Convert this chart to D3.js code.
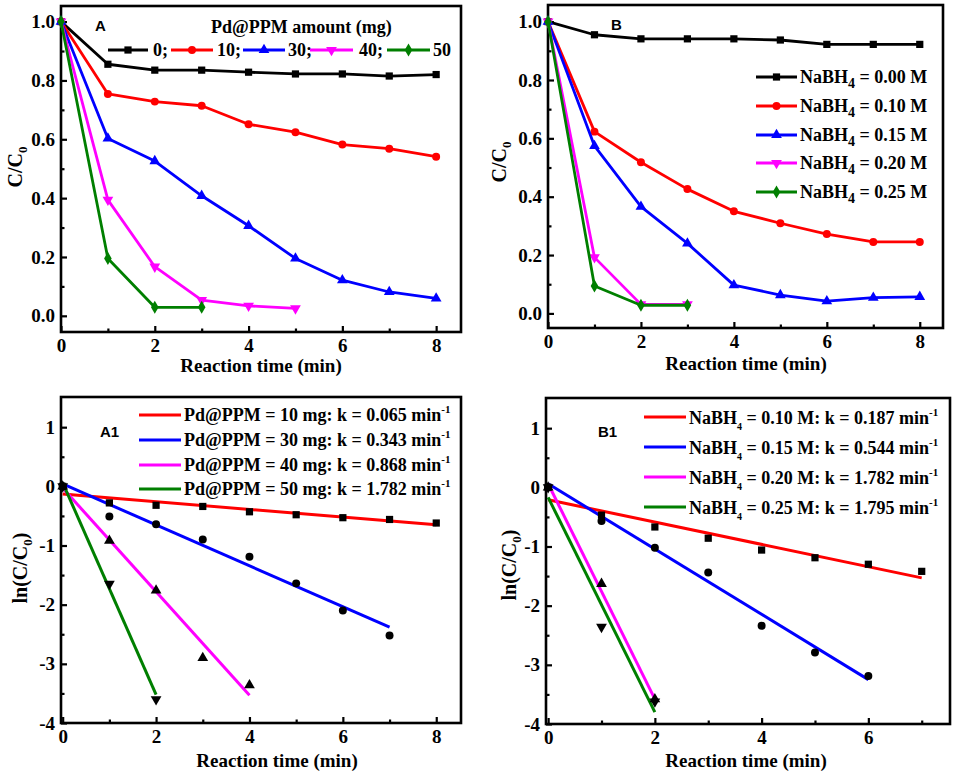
<!DOCTYPE html>
<html><head><meta charset="utf-8">
<script src="https://cdn.jsdelivr.net/npm/d3@7"></script>
<style>
body{margin:0;background:#fff}
svg{display:block}
text{font-family:"Liberation Serif","Times New Roman",serif;font-weight:bold;fill:#000}
.plabel{font-family:"Liberation Sans",Arial,sans-serif}
</style>
</head><body><svg id="c" width="957" height="776"></svg>
<script>
// ---------- DATA ----------
const timeMin = [0,1,2,3,4,5,6,7,8];
// Panel A: C/C0 vs time, Pd@PPM amount (mg)
const amountLabelsA = ["0;","10;","30;","40;","50"];
const seriesA_0mg  = [1.0,0.855,0.835,0.835,0.828,0.822,0.822,0.815,0.820];
const seriesA_10mg = [1.0,0.754,0.728,0.714,0.651,0.624,0.582,0.568,0.541];
const seriesA_30mg = [1.0,0.603,0.526,0.408,0.306,0.195,0.121,0.081,0.059];
const seriesA_40mg = [1.0,0.394,0.167,0.053,0.034,0.025];
const seriesA_50mg = [1.0,0.195,0.029,0.029];
// Panel B: C/C0 vs time, NaBH4 concentration
const nabh4LabelsB = ["0.00","0.10","0.15","0.20","0.25"];
const seriesB_000 = [1.0,0.955,0.941,0.941,0.941,0.937,0.922,0.922,0.922];
const seriesB_010 = [1.0,0.623,0.518,0.426,0.350,0.309,0.272,0.245,0.245];
const seriesB_015 = [1.0,0.574,0.366,0.240,0.097,0.063,0.042,0.054,0.057];
const seriesB_020 = [1.0,0.192,0.031,0.031];
const seriesB_025 = [1.0,0.094,0.028,0.028];
// Panel A1: ln(C/C0) points and fitted lines
const amountsA1 = ["10","30","40","50"];
const kA1 = ["0.065","0.343","0.868","1.782"];
const lnA1_10 = [0,-0.28,-0.32,-0.34,-0.43,-0.48,-0.53,-0.56,-0.62];
const lnA1_30 = [0,-0.51,-0.64,-0.90,-1.19,-1.64,-2.10,-2.52];
const lnA1_40 = [0,-0.92,-1.76,-2.90,-3.36];
const lnA1_50 = [0,-1.65,-3.60];
const fitA1_10 = [[0,-0.13],[8,-0.65]];
const fitA1_30 = [[0,0.04],[7,-2.38]];
const fitA1_40 = [[0,-0.03],[4,-3.53]];
const fitA1_50 = [[0,0.06],[2,-3.52]];
// Panel B1
const nabh4B1 = ["0.10","0.15","0.20","0.25"];
const kB1 = ["0.187","0.544","1.782","1.795"];
const lnB1_010 = [0,-0.47,-0.67,-0.86,-1.06,-1.19,-1.30,-1.42];
const lnB1_015 = [0,-0.57,-1.02,-1.44,-2.34,-2.79,-3.19];
const lnB1_020 = [0,-1.63,-3.58];
const lnB1_025 = [0,-2.36,-3.62];
const fitB1_010 = [[0,-0.21],[7,-1.53]];
const fitB1_015 = [[0,0.06],[6,-3.25]];
const fitB1_020 = [[0,0.06],[2,-3.58]];
const fitB1_025 = [[0,-0.17],[2,-3.80]];
// tick values
const xMajorA = [0,2,4,6,8], xMinorA = [1,3,5,7];
const yMajorC = [0,0.2,0.4,0.6,0.8,1.0], yMinorC = [0.1,0.3,0.5,0.7,0.9];
const yMajorLn = [-4,-3,-2,-1,0,1], yMinorLn = [-3.5,-2.5,-1.5,-0.5,0.5];
const xMajorB1 = [0,2,4,6], xMinorB1 = [1,3,5,7];

// ---------- STYLE ----------
const COL = {black:"#000000", red:"#ff0000", blue:"#0000ff", magenta:"#ff00ff", green:"#007f00"};
const svg = d3.select("#c");

const symSq = d3.symbol().type(d3.symbolSquare).size(52);
const symCi = d3.symbol().type(d3.symbolCircle).size(50);
const symTri = d3.symbol().type(d3.symbolTriangle).size(50);
const symDi = d3.symbol().type(d3.symbolDiamond).size(50);
const markers = {sq:symSq(), ci:symCi(), up:symTri(), dn:symTri(), di:symDi()};
function markerTransform(type, px, py){
  return `translate(${px},${py})` + (type==="dn" ? " rotate(180)" : "");
}

function makePanel(cfg){
  const g = svg.append("g");
  const x = d3.scaleLinear().domain(cfg.xd).range([cfg.l, cfg.r]);
  const y = d3.scaleLinear().domain(cfg.yd).range([cfg.b, cfg.t]);
  const fmtX = d3.format("d");
  const ax = g.append("g").attr("transform",`translate(0,${cfg.b})`)
    .call(d3.axisBottom(x).tickValues(cfg.xMajor).tickSizeInner(-6).tickSizeOuter(0).tickPadding(7).tickFormat(fmtX));
  ax.select(".domain").remove();
  ax.selectAll("text").attr("font-size",19).attr("font-family",null);
  ax.selectAll("line").attr("stroke-width",2.2);
  const axm = g.append("g").attr("transform",`translate(0,${cfg.b})`)
    .call(d3.axisBottom(x).tickValues(cfg.xMinor.filter(v=>v<cfg.xd[1])).tickSizeInner(-3.5).tickSizeOuter(0).tickFormat(""));
  axm.select(".domain").remove();
  axm.selectAll("line").attr("stroke-width",2.2);
  const ay = g.append("g").attr("transform",`translate(${cfg.l},0)`)
    .call(d3.axisLeft(y).tickValues(cfg.yMajor).tickSizeInner(-6).tickSizeOuter(0).tickPadding(6).tickFormat(cfg.yFmt));
  ay.select(".domain").remove();
  ay.selectAll("text").attr("font-size",19).attr("font-family",null);
  ay.selectAll("line").attr("stroke-width",2.2);
  const aym = g.append("g").attr("transform",`translate(${cfg.l},0)`)
    .call(d3.axisLeft(y).tickValues(cfg.yMinor).tickSizeInner(-3.5).tickSizeOuter(0).tickFormat(""));
  aym.select(".domain").remove();
  aym.selectAll("line").attr("stroke-width",2.2);
  g.append("rect").attr("x",cfg.l).attr("y",cfg.t).attr("width",cfg.r-cfg.l).attr("height",cfg.b-cfg.t)
    .attr("fill","none").attr("stroke","#000").attr("stroke-width",2.6);
  return {g,x,y};
}

function drawSeries(p, vals, color, mk, withLine){
  const pts = vals.map((v,i)=>[timeMin[i], v]);
  if(withLine){
    p.g.append("path").datum(pts).attr("fill","none").attr("stroke",color).attr("stroke-width",2.8)
      .attr("stroke-linejoin","round")
      .attr("d", d3.line().x(d=>p.x(d[0])).y(d=>p.y(d[1])));
  }
  p.g.selectAll(null).data(pts).enter().append("path")
    .attr("d", markers[mk]).attr("fill",color)
    .attr("transform", d=>markerTransform(mk, p.x(d[0]), p.y(d[1])));
}
function drawFit(p, seg, color){
  p.g.append("path").datum(seg).attr("fill","none").attr("stroke",color).attr("stroke-width",3)
    .attr("d", d3.line().x(d=>p.x(d[0])).y(d=>p.y(d[1])));
}
function legendLine(p, x1, x2, yy, color, mk){
  p.g.append("line").attr("x1",x1).attr("x2",x2).attr("y1",yy).attr("y2",yy)
    .attr("stroke",color).attr("stroke-width",2.8);
  if(mk) p.g.append("path").attr("d",markers[mk]).attr("fill",color)
    .attr("transform", markerTransform(mk,(x1+x2)/2,yy));
}
function subText(p, xx, yy, parts, size, anchor, rotate){
  const t = p.g.append("text").attr("font-size",size).attr("text-anchor",anchor||"start");
  if(rotate) t.attr("transform",`translate(${xx},${yy}) rotate(-90)`);
  else t.attr("x",xx).attr("y",yy);
  parts.forEach(pt=>{
    const s = t.append("tspan").text(pt.t);
    if(pt.fs) s.attr("font-size",pt.fs);
    if(pt.dy) s.attr("dy",pt.dy);
  });
  return t;
}

const fmtC = d3.format(".1f");
const fmtLn = d => String(d);

// ---------- PANEL A ----------
const pA = makePanel({l:61,t:6,r:461,b:332, xd:[0,8.53], yd:[-0.055,1.053],
  xMajor:xMajorA, xMinor:xMinorA, yMajor:yMajorC, yMinor:yMinorC, yFmt:fmtC});
drawSeries(pA, seriesA_0mg, COL.black, "sq", true);
drawSeries(pA, seriesA_10mg, COL.red, "ci", true);
drawSeries(pA, seriesA_30mg, COL.blue, "up", true);
drawSeries(pA, seriesA_40mg, COL.magenta, "dn", true);
drawSeries(pA, seriesA_50mg, COL.green, "di", true);
pA.g.append("text").attr("class","plabel").attr("x",95).attr("y",31).attr("font-size",15).text("A");
pA.g.append("text").attr("x",211).attr("y",33).attr("font-size",18).text("Pd@PPM amount (mg)");
const legA = [[108,148,153,COL.black,"sq"],[171,213,217,COL.red,"ci"],[243,285,288,COL.blue,"up"],[310,353,359,COL.magenta,"dn"],[387,430,433,COL.green,"di"]];
legA.forEach((d,i)=>{
  legendLine(pA, d[0], d[1], 50, d[3], d[4]);
  pA.g.append("text").attr("x",d[2]).attr("y",56).attr("font-size",18).text(amountLabelsA[i]);
});
pA.g.append("text").attr("x",261).attr("y",372).attr("font-size",19).attr("text-anchor","middle").text("Reaction time (min)");
subText(pA, 22, 167, [{t:"C/C"},{t:"0",fs:13,dy:5}], 20, "middle", true);

// ---------- PANEL B ----------
const pB = makePanel({l:548,t:5,r:943,b:328, xd:[0,8.5], yd:[-0.05,1.057],
  xMajor:xMajorA, xMinor:xMinorA, yMajor:yMajorC, yMinor:yMinorC, yFmt:fmtC});
drawSeries(pB, seriesB_000, COL.black, "sq", true);
drawSeries(pB, seriesB_010, COL.red, "ci", true);
drawSeries(pB, seriesB_015, COL.blue, "up", true);
drawSeries(pB, seriesB_020, COL.magenta, "dn", true);
drawSeries(pB, seriesB_025, COL.green, "di", true);
pB.g.append("text").attr("class","plabel").attr("x",611).attr("y",30).attr("font-size",15).text("B");
const legBcols = [[COL.black,"sq"],[COL.red,"ci"],[COL.blue,"up"],[COL.magenta,"dn"],[COL.green,"di"]];
const legBy = [77,106,135,163,192];
nabh4LabelsB.forEach((lab,i)=>{
  legendLine(pB, 756, 797, legBy[i], legBcols[i][0], legBcols[i][1]);
  subText(pB, 800, legBy[i]+6, [{t:"NaBH"},{t:"4",fs:14,dy:5},{t:" = "+lab+" M",dy:-5}], 18);
});
pB.g.append("text").attr("x",746).attr("y",370).attr("font-size",19).attr("text-anchor","middle").text("Reaction time (min)");
subText(pB, 506, 162, [{t:"C/C"},{t:"0",fs:13,dy:5}], 20, "middle", true);

// ---------- PANEL A1 ----------
const pA1 = makePanel({l:61,t:397,r:461,b:723, xd:[-0.036,8.53], yd:[-4,1.51],
  xMajor:xMajorA, xMinor:xMinorA, yMajor:yMajorLn, yMinor:yMinorLn, yFmt:fmtLn});
drawFit(pA1, fitA1_10, COL.red);
drawFit(pA1, fitA1_30, COL.blue);
drawFit(pA1, fitA1_40, COL.magenta);
drawFit(pA1, fitA1_50, COL.green);
drawSeries(pA1, lnA1_10, COL.black, "sq", false);
drawSeries(pA1, lnA1_30, COL.black, "ci", false);
drawSeries(pA1, lnA1_40, COL.black, "up", false);
drawSeries(pA1, lnA1_50, COL.black, "dn", false);
pA1.g.append("text").attr("class","plabel").attr("x",100).attr("y",437).attr("font-size",15).text("A1");
const legA1col = [COL.red,COL.blue,COL.magenta,COL.green];
const legA1y = [415,440,465,489];
amountsA1.forEach((a,i)=>{
  legendLine(pA1, 139, 181, legA1y[i], legA1col[i], null);
  subText(pA1, 184, legA1y[i]+6, [{t:"Pd@PPM = "+a+" mg: k = "+kA1[i]+" min"},{t:"-1",fs:11,dy:-8}], 18);
});
pA1.g.append("text").attr("x",277).attr("y",767).attr("font-size",19).attr("text-anchor","middle").text("Reaction time (min)");
subText(pA1, 27, 568, [{t:"ln(C/C"},{t:"0",fs:13,dy:5},{t:")",dy:-5}], 20, "middle", true);

// ---------- PANEL B1 ----------
const pB1 = makePanel({l:546,t:398,r:950,b:724, xd:[-0.04,7.53], yd:[-4,1.51],
  xMajor:xMajorB1, xMinor:xMinorB1, yMajor:yMajorLn, yMinor:yMinorLn, yFmt:fmtLn});
drawFit(pB1, fitB1_010, COL.red);
drawFit(pB1, fitB1_015, COL.blue);
drawFit(pB1, fitB1_020, COL.magenta);
drawFit(pB1, fitB1_025, COL.green);
drawSeries(pB1, lnB1_010, COL.black, "sq", false);
drawSeries(pB1, lnB1_015, COL.black, "ci", false);
drawSeries(pB1, lnB1_020, COL.black, "up", false);
drawSeries(pB1, lnB1_025, COL.black, "dn", false);
pB1.g.append("text").attr("class","plabel").attr("x",598).attr("y",437).attr("font-size",15).text("B1");
const legB1y = [417,447,477,507];
nabh4B1.forEach((c,i)=>{
  legendLine(pB1, 644, 686, legB1y[i], legA1col[i], null);
  subText(pB1, 689, legB1y[i]+7, [{t:"NaBH"},{t:"4",fs:10,dy:6},{t:" = "+c+" M: k = "+kB1[i]+" min",dy:-6},{t:"-1",fs:11,dy:-8}], 18);
});
pB1.g.append("text").attr("x",746).attr("y",767).attr("font-size",19).attr("text-anchor","middle").text("Reaction time (min)");
subText(pB1, 516, 565, [{t:"ln(C/C"},{t:"0",fs:13,dy:5},{t:")",dy:-5}], 20, "middle", true);
</script>
</body></html>
